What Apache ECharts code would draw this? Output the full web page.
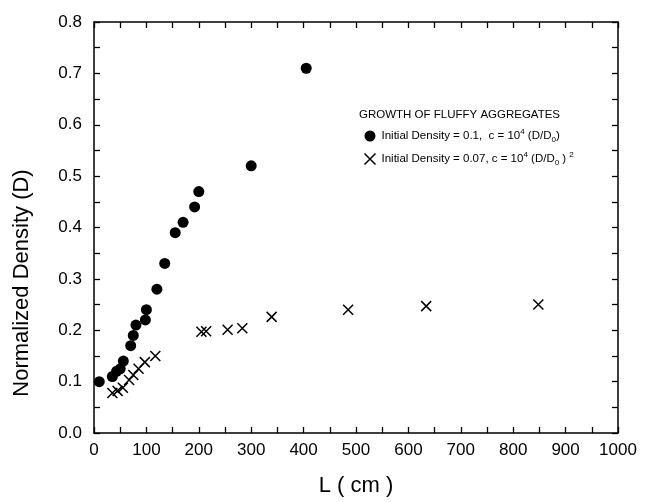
<!DOCTYPE html>
<html><head><meta charset="utf-8">
<script src="https://cdn.jsdelivr.net/npm/echarts@6/dist/echarts.min.js"></script>
<style>html,body{margin:0;padding:0;background:#fff}#c{width:645px;height:502px}</style>
</head><body><div id="c"></div>
<script>
// Series 1: Initial Density = 0.1 (filled circles)
const dotL = [10, 35, 43, 50, 56, 70, 75, 80, 98, 100, 120, 135, 155, 170, 192, 200, 300, 405];
const dotD = [0.10, 0.11, 0.12, 0.125, 0.14, 0.17, 0.19, 0.21, 0.22, 0.24, 0.28, 0.33, 0.39, 0.41, 0.44, 0.47, 0.52, 0.71];
// Series 2: Initial Density = 0.07 (crosses)
const crossL = [35, 45, 55, 67, 75, 85, 97, 117, 205, 214, 255, 283, 339, 485, 634, 848];
const crossD = [0.078, 0.082, 0.088, 0.103, 0.113, 0.125, 0.138, 0.15, 0.197, 0.198, 0.201, 0.204, 0.226, 0.24, 0.247, 0.25];
const xTicks = [0, 100, 200, 300, 400, 500, 600, 700, 800, 900, 1000];
const yTicks = [0.0, 0.1, 0.2, 0.3, 0.4, 0.5, 0.6, 0.7, 0.8];

const FONT = "'Liberation Sans Narrow', 'Liberation Sans', Arial, sans-serif";
const CROSS = 'path://M0,0L10,10M10,0L0,10';
const zip = (a, b) => a.map((v, i) => [v, b[i]]);

const chart = echarts.init(document.getElementById('c'), null, {renderer: 'canvas'});
function mkTick() { return {show: true, inside: true, length: 6, lineStyle: {color: '#000', width: 1.3, opacity: 1}}; }
function mkX(extra) {
  // ticks every 50 (half of label step); labels only at xTicks
  return Object.assign({
    type: 'value', min: xTicks[0], max: xTicks[xTicks.length - 1], interval: (xTicks[1] - xTicks[0]) / 2,
    axisLine: {show: true, onZero: false, lineStyle: {color: '#000', width: 1.5}},
    axisTick: mkTick(), splitLine: {show: false}
  }, extra);
}
function mkY(extra) {
  return Object.assign({
    type: 'value', min: yTicks[0], max: yTicks[yTicks.length - 1], interval: 0.05,
    axisLine: {show: true, onZero: false, lineStyle: {color: '#000', width: 1.5}},
    axisTick: mkTick(), splitLine: {show: false}
  }, extra);
}
const rich = {
  t: {fontFamily: FONT, fontSize: 11.5, color: '#000', lineHeight: 16},
  sup: {fontFamily: FONT, fontSize: 8, color: '#000', verticalAlign: 'top', lineHeight: 16},
  sub: {fontFamily: FONT, fontSize: 8, color: '#000', verticalAlign: 'bottom', lineHeight: 16}
};
chart.setOption({
  backgroundColor: '#fff',
  animation: false,
  grid: {left: 94, right: 27, top: 22, bottom: 67},
  title: {text: 'GROWTH OF FLUFFY AGGREGATES', left: 354, top: 104,
    textStyle: {fontFamily: FONT, fontSize: 11.5, fontWeight: 'normal', color: '#000'}},
  legend: {
    orient: 'vertical', left: 357, top: 123, itemGap: 7, itemWidth: 11, itemHeight: 11,
    data: [{name: 's1', icon: 'circle', itemStyle: {color: '#000', opacity: 1}}, {name: 's2', icon: CROSS,
      itemStyle: {color: 'none', borderColor: '#000', borderWidth: 1.5, opacity: 1}}],
    textStyle: {rich: rich, padding: [0, 0, 0, 1]},
    formatter: function (n) {
      if (n === 's1') return '{t|Initial Density = 0.1,  c = 10}{sup|4}{t| (D/D}{sub|0}{t|)}';
      return '{t|Initial Density = 0.07, c = 10}{sup|4}{t| (D/D}{sub|0}{t| ) }{sup|2}';
    }
  },
  graphic: [{type: 'text', x: 22, y: 283, rotation: Math.PI / 2,
    style: {text: 'Normalized Density (D)', fontFamily: FONT, fontSize: 22, fill: '#000',
      align: 'center', verticalAlign: 'middle'}}],
  xAxis: [
    mkX({position: 'bottom', name: 'L ( cm )', nameLocation: 'middle', nameGap: 42,
      nameTextStyle: {fontFamily: FONT, fontSize: 22, color: '#000'},
      axisLabel: {color: '#000', fontFamily: FONT, fontSize: 17, margin: 9,
        formatter: v => (xTicks.indexOf(Math.round(v)) >= 0 && Math.abs(v - Math.round(v)) < 1e-6) ? String(Math.round(v)) : ''}}),
    mkX({position: 'top', axisLabel: {show: false}})
  ],
  yAxis: [
    mkY({position: 'left',
      axisLabel: {color: '#000', fontFamily: FONT, fontSize: 17, margin: 12,
        formatter: v => (Math.round(v * 100) % 10 === 0) ? (Math.round(v * 10) / 10).toFixed(1) : ''}}),
    mkY({position: 'right', axisLabel: {show: false}})
  ],
  series: [
    {name: 's1', type: 'scatter', symbol: 'circle', symbolSize: 11,
      itemStyle: {color: '#000', opacity: 1}, data: zip(dotL, dotD)},
    {name: 's2', type: 'scatter', symbol: CROSS, symbolSize: 10,
      itemStyle: {color: 'none', borderColor: '#000', borderWidth: 1.5, opacity: 1}, data: zip(crossL, crossD)}
  ]
});
</script></body></html>
